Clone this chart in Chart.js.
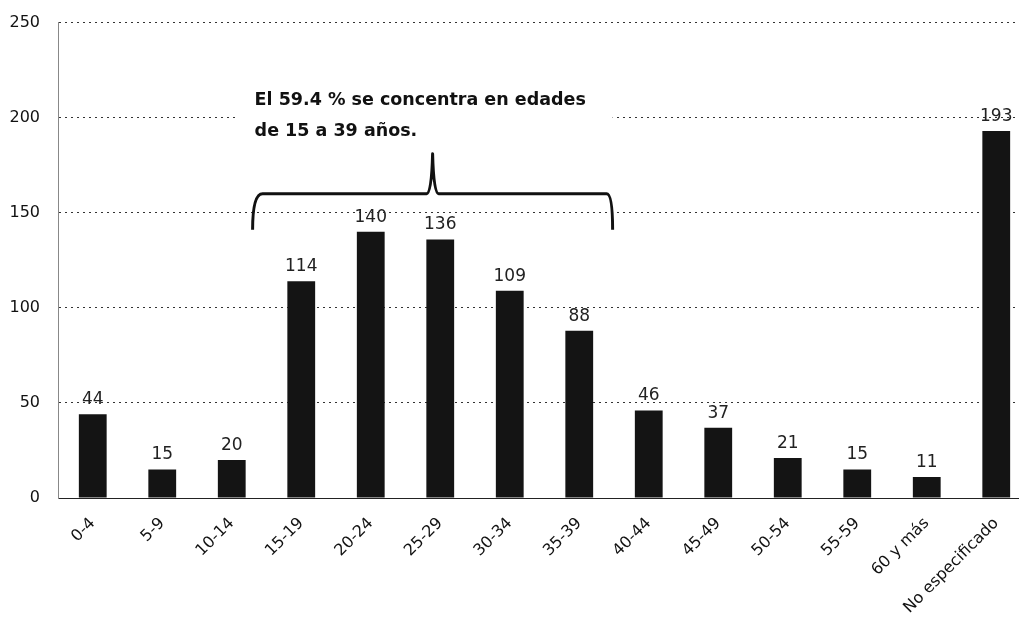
<!DOCTYPE html>
<html>
<head>
<meta charset="utf-8">
<script src="https://cdn.jsdelivr.net/npm/chart.js@4/dist/chart.umd.min.js"></script>
<style>
  html, body { margin: 0; padding: 0; background: #fff; overflow: hidden; }
  #wrap { width: 1045px; height: 642px; margin-top: -5px; }
</style>
</head>
<body>
<div id="wrap"><canvas id="ages"></canvas></div>
<script>
const ageGroups = ["0-4", "5-9", "10-14", "15-19", "20-24", "25-29", "30-34", "35-39",
    "40-44", "45-49", "50-54", "55-59", "60 y más", "No especificado"];
const counts = [44, 15, 20, 114, 140, 136, 109, 88, 46, 37, 21, 15, 11, 193];
const yTicks = [0, 50, 100, 150, 200, 250];
const noteLines = ["El 59.4 % se concentra en edades", "de 15 a 39 años."];

const FONT = "'DejaVu Sans', 'Lato', sans-serif";

// value labels above each bar
const barValues = {
    id: "barValues",
    afterDatasetsDraw(chart) {
        const ctx = chart.ctx;
        const meta = chart.getDatasetMeta(0);
        ctx.save();
        ctx.fillStyle = "#222";
        ctx.font = "17px " + FONT;
        ctx.textAlign = "center";
        ctx.textBaseline = "bottom";
        meta.data.forEach((bar, i) => {
            ctx.fillText(String(counts[i]), bar.x, bar.y - 6);
        });
        ctx.restore();
    },
};

// note text + curly brace over 15-19 .. 35-39
const bracketNote = {
    id: "bracketNote",
    beforeDatasetsDraw(chart) {
        const ctx = chart.ctx;
        const x = chart.scales.x;
        const y = chart.scales.y;
        const step = x.getPixelForValue(1) - x.getPixelForValue(0);
        const left = x.getPixelForValue(3) - step * 0.7;
        const right = x.getPixelForValue(7) + step * 0.48;
        const mid = (left + right) / 2;
        const top = y.getPixelForValue(160);
        const foot = y.getPixelForValue(141);
        const peak = y.getPixelForValue(181);

        ctx.save();
        // white box behind the note
        ctx.fillStyle = "#fff";
        ctx.fillRect(left - 15, y.getPixelForValue(222), right - left + 15, y.getPixelForValue(184) - y.getPixelForValue(222));

        ctx.fillStyle = "#111";
        ctx.font = "bold 17.5px " + FONT;
        ctx.textAlign = "left";
        ctx.textBaseline = "middle";
        ctx.fillText(noteLines[0], left + 2, y.getPixelForValue(209));
        ctx.fillText(noteLines[1], left + 2, y.getPixelForValue(193));

        ctx.strokeStyle = "#111";
        ctx.lineWidth = 3;
        ctx.lineJoin = "round";
        ctx.beginPath();
        ctx.moveTo(left, foot);
        ctx.quadraticCurveTo(left, top, left + 10, top);
        ctx.lineTo(mid - 6, top);
        ctx.quadraticCurveTo(mid - 1, top, mid, peak);
        ctx.quadraticCurveTo(mid + 1, top, mid + 6, top);
        ctx.lineTo(right - 6, top);
        ctx.quadraticCurveTo(right, top, right, foot);
        ctx.stroke();
        ctx.restore();
    },
};

document.addEventListener("DOMContentLoaded", () => {
    const ctx = document.getElementById("ages");
    new Chart(ctx, {
        type: "bar",
        data: {
            labels: ageGroups,
            datasets: [
                {
                    label: "Personas",
                    data: counts,
                    backgroundColor: "#141414",
                    borderColor: "#141414",
                    borderWidth: 0,
                    barPercentage: 0.8,
                    categoryPercentage: 0.5,
                },
            ],
        },
        options: {
            responsive: true,
            maintainAspectRatio: false,
            animation: false,
            layout: { padding: { top: 9, right: 14, left: 0, bottom: 0 } },
            plugins: {
                legend: { display: false },
                tooltip: { enabled: false },
            },
            scales: {
                x: {
                    grid: { display: false, drawTicks: false },
                    border: { display: true, color: "#222", width: 1 },
                    ticks: {
                        color: "#111",
                        font: { family: FONT, size: 16 },
                        maxRotation: 45,
                        minRotation: 45,
                        autoSkip: false,
                        padding: 16,
                    },
                    afterFit(scale) { scale.height = 139; },
                },
                y: {
                    min: 0,
                    max: 250,
                    afterBuildTicks(scale) {
                        scale.ticks = yTicks.map((v) => ({ value: v }));
                    },
                    grid: {
                        color: (c) => (c.tick.value === 0 ? "rgba(0,0,0,0)" : "#333"),
                        lineWidth: 1,
                        drawTicks: false,
                    },
                    border: { display: true, color: "#888", dash: [2, 4] },
                    ticks: {
                        color: "#111",
                        font: { family: FONT, size: 16 },
                        padding: 18,
                    },
                    afterFit(scale) { scale.width = 58; },
                },
            },
        },
        plugins: [barValues, bracketNote],
    });
});
</script>
</body>
</html>
